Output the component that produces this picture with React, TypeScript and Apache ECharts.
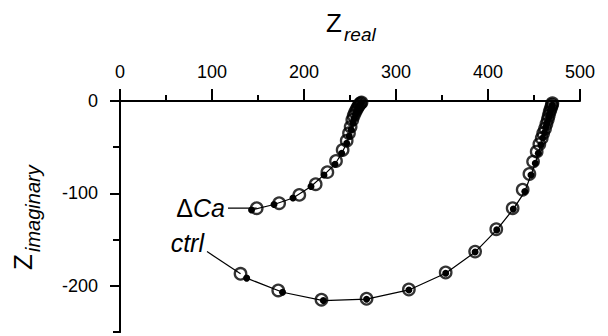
import React, { useEffect, useRef } from "react";
import * as echarts from "echarts";

// ΔCa measured impedance (open circles)
const caOpen: number[][] = [
  [148.6, -116], [173, -110.6], [194.9, -101.6], [212.7, -90], [225.4, -77],
  [234.8, -64.9], [242, -53], [246.4, -43], [248.9, -35], [250.7, -28],
  [252.5, -20.5], [254, -16], [255.5, -12.5], [257, -9.5], [258.3, -7],
  [259.5, -5], [260.5, -3.5], [261.5, -2.5], [262.5, -1.5],
];
// ΔCa second set (filled dots, joined by the line)
const caFilled: number[][] = [
  [143, -118], [167.4, -112], [188, -105], [207.6, -92.6], [221.7, -80],
  [233.7, -68.5], [241, -56.6], [246.4, -45.8], [249.2, -38], [251.2, -31],
  [253, -24], [254.5, -19], [256, -14.5], [257.3, -11], [258.5, -8.2],
  [259.6, -6], [260.6, -4.2], [261.5, -3], [262.3, -2],
];
// ctrl measured impedance (open circles)
const ctrlOpen: number[][] = [
  [131, -187], [172, -205], [219, -215], [268, -214], [314, -204],
  [354, -185.6], [386, -163], [409, -138.7], [426.8, -116], [437.7, -96],
  [445, -79], [449, -65.6], [452.9, -54.8], [455.8, -46.8], [458.4, -40.3],
  [460, -35], [462, -30], [463.5, -25], [465, -20], [466, -16], [467, -12],
  [468, -9], [469, -6], [469.5, -4], [470, -2.5],
];
// ctrl second set (filled dots, joined by the line)
const ctrlFilled: number[][] = [
  [137.7, -191.7], [176.7, -207], [221, -216], [268, -214.5], [314, -204.5],
  [354, -186.5], [386, -163.5], [409.5, -139.5], [427.5, -117], [440, -98],
  [446.7, -80], [451.4, -67.4], [454.7, -56.6], [457.5, -47.5], [459.5, -40],
  [461.5, -34], [463, -28], [464.5, -23], [466, -18], [467, -14], [468, -10],
  [469, -7], [470, -4.5],
];
// leader lines from the labels to the first points
const caLeader: number[][] = [[117.4, -116], [148.6, -116]];
const ctrlLeader: number[][] = [[94.6, -163], [131, -187]];

const xTicks = [0, 100, 200, 300, 400, 500];
const yMajor = [0, -100, -200];
const yMinor = [-50, -150, -250];

const FONT = "'Liberation Sans', Arial, sans-serif";

export default function App() {
  const ref = useRef<HTMLDivElement>(null);
  useEffect(() => {
    if (!ref.current) return;
    const chart = echarts.init(ref.current, undefined, { renderer: "svg" });
    const openStyle = {
      color: "rgba(0,0,0,0)",
      borderColor: "#000",
      borderWidth: 2.3,
    };
    const axisLineStyle = { color: "#000", width: 2 };
    chart.setOption({
      animation: false,
      backgroundColor: "#fff",
      grid: { left: 120, top: 101, width: 460, height: 231 },
      xAxis: {
        type: "value",
        position: "top",
        min: xTicks[0],
        max: xTicks[xTicks.length - 1],
        interval: 100,
        axisLine: { show: true, lineStyle: axisLineStyle },
        axisTick: { show: true, length: 12, lineStyle: axisLineStyle },
        minorTick: { show: true, splitNumber: 2, length: 6, lineStyle: axisLineStyle },
        splitLine: { show: false },
        axisLabel: { fontSize: 18, color: "#000", fontFamily: FONT, margin: 20 },
      },
      yAxis: [
        {
          type: "value",
          min: -250,
          max: 0,
          interval: 50,
          axisLine: { show: true, onZero: false, lineStyle: axisLineStyle },
          axisTick: { show: true, length: 10, customValues: yMajor, lineStyle: axisLineStyle },
          splitLine: { show: false },
          axisLabel: { fontSize: 18, color: "#000", fontFamily: FONT, margin: 22, customValues: yMajor },
        },
        {
          type: "value",
          min: -250,
          max: 0,
          interval: 50,
          position: "left",
          axisLine: { show: true, onZero: false, lineStyle: axisLineStyle },
          axisTick: { show: true, length: 7, customValues: yMinor, lineStyle: axisLineStyle },
          splitLine: { show: false },
          axisLabel: { show: false },
        },
      ],
      series: [
        {
          type: "line",
          data: caFilled,
          symbol: "circle",
          symbolSize: 7,
          itemStyle: { color: "#000" },
          lineStyle: { color: "#000", width: 1.2 },
          z: 3,
        },
        {
          type: "scatter",
          data: caOpen,
          symbol: "circle",
          symbolSize: 11.5,
          itemStyle: openStyle,
          z: 4,
        },
        {
          type: "line",
          data: ctrlFilled,
          symbol: "circle",
          symbolSize: 7,
          itemStyle: { color: "#000" },
          lineStyle: { color: "#000", width: 1.2 },
          z: 3,
        },
        {
          type: "scatter",
          data: ctrlOpen,
          symbol: "circle",
          symbolSize: 11.5,
          itemStyle: openStyle,
          z: 4,
        },
        {
          type: "line",
          data: caLeader,
          symbol: "none",
          lineStyle: { color: "#000", width: 1.2 },
          z: 2,
        },
        {
          type: "line",
          data: ctrlLeader,
          symbol: "none",
          lineStyle: { color: "#000", width: 1.2 },
          z: 2,
        },
      ],
      graphic: [
        {
          type: "text",
          x: 334,
          y: 23,
          style: { text: "Z", fontSize: 26, fontFamily: FONT, fill: "#000", align: "center", verticalAlign: "middle" },
        },
        {
          type: "text",
          x: 344,
          y: 34,
          style: { text: "real", fontSize: 19, fontStyle: "italic", fontFamily: FONT, fill: "#000", align: "left", verticalAlign: "middle" },
        },
        {
          type: "text",
          x: 23,
          y: 262,
          rotation: Math.PI / 2,
          style: { text: "Z", fontSize: 26, fontFamily: FONT, fill: "#000", align: "center", verticalAlign: "middle" },
        },
        {
          type: "text",
          x: 33,
          y: 252,
          rotation: Math.PI / 2,
          style: { text: "imaginary", fontSize: 20, fontStyle: "italic", fontFamily: FONT, fill: "#000", align: "left", verticalAlign: "middle" },
        },
        {
          type: "text",
          x: 225,
          y: 208,
          style: {
            text: "{d|Δ}{c|Ca}",
            align: "right",
            verticalAlign: "middle",
            rich: {
              d: { fontSize: 25, fontFamily: FONT, fill: "#000" },
              c: { fontSize: 25, fontFamily: FONT, fontStyle: "italic", fill: "#000" },
            },
          },
        },
        {
          type: "text",
          x: 204,
          y: 243,
          style: { text: "ctrl", fontSize: 25, fontStyle: "italic", fontFamily: FONT, fill: "#000", align: "right", verticalAlign: "middle" },
        },
      ],
    });
    return () => chart.dispose();
  }, []);
  return (
    <div
      ref={ref}
      style={{ position: "absolute", left: 0, top: 0, width: 608, height: 336 }}
    />
  );
}
